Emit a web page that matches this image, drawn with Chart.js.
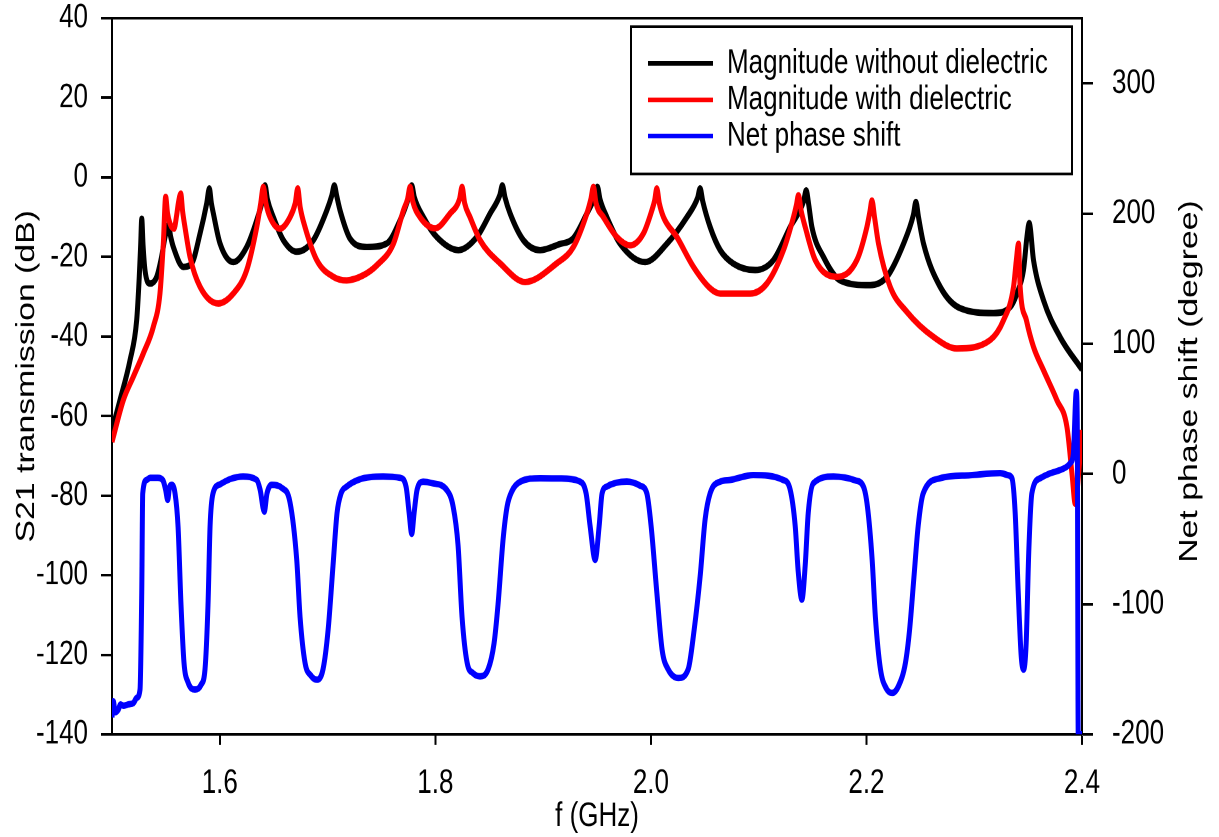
<!DOCTYPE html>
<html>
<head>
<meta charset="utf-8">
<title>S21 transmission and net phase shift</title>
<script src="https://cdn.jsdelivr.net/npm/chart.js@4.4.1/dist/chart.umd.min.js"></script>
<style>
html, body { margin: 0; padding: 0; background: #fff; overflow: hidden; }
/* the source figure is stretched vertically, so the chart is drawn short and scaled up */
#wrap { position: absolute; left: 0; top: 0; width: 1219px; height: 644px; transform: scaleY(1.2997); transform-origin: 0 0; }
</style>
</head>
<body>
<div id="wrap"><canvas id="chart"></canvas></div>
<script>
var xTicks = [1.6, 1.8, 2.0, 2.2, 2.4];
var dbTicks = [-140, -120, -100, -80, -60, -40, -20, 0, 20, 40];
var phaseTicks = [-200, -100, 0, 100, 200, 300];
var seriesNames = ['Magnitude without dielectric', 'Magnitude with dielectric', 'Net phase shift'];
var seriesColors = ['#000000', '#ff0000', '#0000ff'];

// magnitude without dielectric (GHz, dB)
var freqNoDiel = [1.5000, 1.5074, 1.5167, 1.5229, 1.5253, 1.5266, 1.5276, 1.5288, 1.5306, 1.5353,
	1.5415, 1.5460, 1.5492, 1.5523, 1.5545, 1.5569, 1.5662, 1.5740, 1.5817, 1.5879,
	1.5903, 1.5922, 1.5940, 1.6002, 1.6126, 1.6250, 1.6343, 1.6398, 1.6420, 1.6442,
	1.6497, 1.6590, 1.6714, 1.6868, 1.6993, 1.7040, 1.7063, 1.7086, 1.7116, 1.7209,
	1.7364, 1.7550, 1.7673, 1.7758, 1.7781, 1.7805, 1.7889, 1.8013, 1.8214, 1.8385,
	1.8508, 1.8598, 1.8622, 1.8646, 1.8694, 1.8817, 1.8972, 1.9150, 1.9281, 1.9406,
	1.9480, 1.9504, 1.9528, 1.9591, 1.9715, 1.9947, 2.0148, 2.0334, 2.0433, 2.0457,
	2.0481, 2.0550, 2.0643, 2.0766, 2.0968, 2.1137, 2.1292, 2.1417, 2.1441, 2.1465,
	2.1494, 2.1601, 2.1756, 2.2035, 2.2190, 2.2344, 2.2435, 2.2459, 2.2483, 2.2530,
	2.2684, 2.2870, 2.3179, 2.3334, 2.3396, 2.3457, 2.3489, 2.3510, 2.3550, 2.3643,
	2.3798, 2.4000];
var magNoDiel = [-63.5, -56, -46, -35.9, -25, -17, -10.4, -17, -23.3, -26.7,
	-25, -20, -15, -12, -15, -17.5, -22.5, -21.6, -14.1, -6.5,
	-2.8, -6.5, -9, -16.6, -21.3, -17.5, -10.8, -5.5, -2, -5.5,
	-10, -15.8, -18.7, -15.8, -8.3, -4.5, -2, -4.8, -8.3, -15.4,
	-17.5, -16.6, -10.8, -4.5, -2, -5, -10, -15, -18.3, -15,
	-9.1, -4.5, -2, -5, -9.1, -15.8, -18.3, -16.8, -15.3, -9.1,
	-4.8, -2.4, -5.5, -10, -16.7, -21.3, -16.7, -10, -5.2, -2.8,
	-6, -12.5, -18.3, -21.7, -23.3, -20.8, -12.5, -6, -3.3, -7,
	-12.5, -20, -25.9, -27.1, -25, -16.7, -9.5, -6.2, -10, -16.7,
	-27.5, -32.9, -34.1, -32.6, -29.2, -23.3, -15, -11.5, -20.8, -30.9,
	-40.2, -48.3];

// magnitude with dielectric (GHz, dB)
var freqDiel = [1.5000, 1.5105, 1.5198, 1.5290, 1.5383, 1.5445, 1.5476, 1.5498, 1.5515, 1.5538,
	1.5575, 1.5600, 1.5615, 1.5638, 1.5655, 1.5677, 1.5724, 1.5817, 1.5987, 1.6126,
	1.6250, 1.6343, 1.6380, 1.6404, 1.6428, 1.6466, 1.6559, 1.6652, 1.6700, 1.6723,
	1.6746, 1.6791, 1.6900, 1.7054, 1.7178, 1.7332, 1.7457, 1.7611, 1.7704, 1.7742,
	1.7766, 1.7790, 1.7858, 1.7998, 1.8137, 1.8224, 1.8248, 1.8272, 1.8322, 1.8415,
	1.8601, 1.8833, 1.9127, 1.9281, 1.9406, 1.9443, 1.9467, 1.9491, 1.9560, 1.9684,
	1.9807, 1.9931, 2.0009, 2.0035, 2.0055, 2.0078, 2.0117, 2.0241, 2.0395, 2.0550,
	2.0643, 2.0921, 2.1076, 2.1230, 2.1323, 2.1350, 2.1369, 2.1395, 2.1432, 2.1525,
	2.1726, 2.1911, 2.2004, 2.2033, 2.2051, 2.2075, 2.2112, 2.2220, 2.2375, 2.2622,
	2.2839, 2.3148, 2.3272, 2.3365, 2.3390, 2.3411, 2.3425, 2.3485, 2.3550, 2.3643,
	2.3767, 2.3860, 2.3909, 2.3937, 2.3970, 2.4000];
var magDiel = [-66.5, -56, -50.1, -44.3, -37.6, -29.2, -16.7, -4.9, -9, -11.6,
	-12.9, -9.5, -6.6, -4.1, -8.5, -12.5, -20, -27.5, -31.7, -29.2,
	-23.3, -12.5, -6.5, -2.4, -6.5, -10, -12.9, -10, -6.5, -2.8,
	-7.5, -12.5, -20.8, -25, -25.9, -24.6, -22.1, -16.7, -8.3, -5.5,
	-2.4, -6, -10, -12.8, -9.1, -5.5, -2.4, -6.5, -10, -15.8,
	-21.6, -26.3, -21.6, -17.5, -9.1, -5.5, -2.4, -6.5, -10, -15,
	-17.1, -14.1, -8.3, -5.8, -2.8, -6.5, -10, -15, -22.5, -27.9,
	-29.2, -29.2, -26.7, -18.3, -10, -7, -4.5, -8.5, -12.5, -20.8,
	-25, -20.8, -12.5, -8.5, -5.8, -10, -16.7, -27.5, -33.8, -40.1,
	-43, -40.9, -35.9, -27.5, -21, -16.7, -27, -36, -42.6, -48.5,
	-56, -62.7, -75, -82, -74, -63.5];

// net phase shift (GHz, degree)
var freqPhase = [1.5000, 1.5012, 1.5030, 1.5058, 1.5080, 1.5105, 1.5151, 1.5198, 1.5229, 1.5260,
	1.5276, 1.5285, 1.5322, 1.5353, 1.5427, 1.5473, 1.5497, 1.5517, 1.5534, 1.5554,
	1.5585, 1.5613, 1.5640, 1.5668, 1.5705, 1.5770, 1.5826, 1.5863, 1.5891, 1.5910,
	1.5937, 1.6002, 1.6095, 1.6216, 1.6343, 1.6374, 1.6413, 1.6438, 1.6482, 1.6575,
	1.6652, 1.6714, 1.6745, 1.6791, 1.6847, 1.6900, 1.6958, 1.7005, 1.7051, 1.7088,
	1.7125, 1.7178, 1.7302, 1.7515, 1.7673, 1.7729, 1.7757, 1.7781, 1.7803, 1.7831,
	1.7886, 1.7967, 1.8106, 1.8165, 1.8211, 1.8248, 1.8295, 1.8350, 1.8415, 1.8490,
	1.8545, 1.8582, 1.8629, 1.8666, 1.8712, 1.8786, 1.8972, 1.9158, 1.9343, 1.9399,
	1.9436, 1.9483, 1.9520, 1.9547, 1.9591, 1.9777, 1.9900, 1.9962, 2.0002, 2.0055,
	2.0104, 2.0160, 2.0256, 2.0346, 2.0401, 2.0457, 2.0503, 2.0550, 2.0643, 2.0736,
	2.0949, 2.1227, 2.1292, 2.1339, 2.1367, 2.1401, 2.1432, 2.1460, 2.1508, 2.1694,
	2.1898, 2.1972, 2.2009, 2.2053, 2.2083, 2.2130, 2.2186, 2.2239, 2.2297, 2.2362,
	2.2400, 2.2440, 2.2480, 2.2527, 2.2685, 2.2963, 2.3241, 2.3315, 2.3350, 2.3380,
	2.3408, 2.3436, 2.3458, 2.3482, 2.3506, 2.3535, 2.3612, 2.3705, 2.3798, 2.3860,
	2.3890, 2.3919, 2.3947, 2.3956, 2.3965, 2.4000];
var phaseDeg = [-187, -174.6, -183, -181, -177, -178, -177, -176, -172, -165.6,
	-91, -15, -4.6, -3, -3, -5, -12, -20, -10, -8.4,
	-15, -40.6, -100, -145, -160, -165.6, -162, -150, -100, -40,
	-15, -8, -4, -2, -4.6, -12, -28.9, -15, -8.4, -10.7,
	-22, -66, -110, -145, -155, -158, -150, -120, -70, -30,
	-15, -9.7, -4, -2, -3, -10, -30, -46, -30, -12,
	-6, -7, -12.3, -25, -55, -110, -145, -153, -155.4, -150,
	-130, -100, -50, -25, -13, -6, -3.3, -3.5, -5.9, -15,
	-40, -66, -40, -15, -9.7, -5.9, -9, -14.8, -40, -91,
	-135, -150, -156.7, -150, -120, -78.7, -35, -14.8, -5.9, -4.6,
	-0.8, -4.6, -12, -40, -75, -96.6, -70, -30, -7.1, -2,
	-5, -9.7, -25, -66, -110, -150, -165, -168.2, -163, -145,
	-120, -80, -40, -14.8, -3.3, -1, 0.6, -1, -3.3, -30,
	-90, -140, -150.3, -130, -60, -14.8, -3.3, 0.5, 3, 5.6,
	8.2, 15, 63, 40, -200, -200];

function pairs(xs, ys) {
	return xs.map(function(x, i) {
		return { x: x, y: ys[i] };
	});
}

var FONT = "'Liberation Sans', Arial, sans-serif";
Chart.defaults.font.family = FONT;
Chart.defaults.color = '#000';

var axisGrid = { drawOnChartArea: false, drawTicks: true, tickLength: 11, tickWidth: 2, tickColor: '#000' };
var axisBorder = { display: true, color: '#000', width: 2 };

// keep the axis boxes at fixed sizes, no extra room for overhanging labels
function fixSize(w, h) {
	return function(s) {
		if (w) s.width = w;
		if (h) s.height = h;
		s.paddingTop = 0;
		s.paddingBottom = 0;
		s.paddingLeft = 0;
		s.paddingRight = 0;
	};
}

// top frame line, boxed legend and the right axis title (reads bottom to top)
var decorPlugin = {
	id: 'decor',
	afterDraw: function(chart) {
		var ctx = chart.ctx;
		var a = chart.chartArea;
		ctx.save();
		ctx.strokeStyle = '#000';
		ctx.lineWidth = 2;
		ctx.beginPath();
		ctx.moveTo(a.left - 1, a.top);
		ctx.lineTo(a.right + 1, a.top);
		ctx.stroke();

		var box = { left: 631, top: 20.5, width: 441, height: 113.3 };
		ctx.fillStyle = '#fff';
		ctx.fillRect(box.left, box.top, box.width, box.height);
		ctx.strokeRect(box.left, box.top, box.width, box.height);
		var rows = [48.7, 76.9, 104.6];
		ctx.font = '26px ' + FONT;
		ctx.textBaseline = 'middle';
		ctx.textAlign = 'left';
		for (var i = 0; i < seriesNames.length; i++) {
			ctx.strokeStyle = seriesColors[i];
			ctx.lineWidth = 3.5;
			ctx.beginPath();
			ctx.moveTo(648, rows[i]);
			ctx.lineTo(713, rows[i]);
			ctx.stroke();
			ctx.fillStyle = '#000';
			ctx.fillText(seriesNames[i], 727, rows[i]);
		}

		ctx.translate(1190, (a.top + a.bottom) / 2 + 4);
		ctx.rotate(-Math.PI / 2);
		ctx.textAlign = 'center';
		ctx.font = '26px ' + FONT;
		ctx.fillText('Net phase shift (degree)', 0, 0);
		ctx.restore();
	}
};

new Chart(document.getElementById('chart').getContext('2d'), {
	type: 'line',
	data: {
		datasets: [{
			label: seriesNames[0],
			data: pairs(freqNoDiel, magNoDiel),
			borderColor: seriesColors[0],
			yAxisID: 'y',
			order: 3
		}, {
			label: seriesNames[1],
			data: pairs(freqDiel, magDiel),
			borderColor: seriesColors[1],
			yAxisID: 'y',
			order: 2
		}, {
			label: seriesNames[2],
			data: pairs(freqPhase, phaseDeg),
			borderColor: seriesColors[2],
			yAxisID: 'y1',
			order: 1
		}]
	},
	options: {
		responsive: true,
		maintainAspectRatio: false,
		devicePixelRatio: 2,
		animation: false,
		layout: { padding: { top: 14, left: 0, right: 0, bottom: 0 } },
		elements: {
			point: { radius: 0 },
			line: { borderWidth: 5, fill: false, cubicInterpolationMode: 'monotone' }
		},
		plugins: {
			legend: { display: false },
			tooltip: { enabled: false }
		},
		scales: {
			x: {
				type: 'linear',
				position: 'bottom',
				min: 1.5,
				max: 2.4,
				afterBuildTicks: function(s) { s.ticks = xTicks.map(function(v) { return { value: v }; }); },
				afterFit: fixSize(0, 79),
				ticks: {
					font: { size: 26 },
					padding: 14,
					maxRotation: 0,
					autoSkip: false,
					callback: function(v) { return v.toFixed(1); }
				},
				grid: Object.assign({}, axisGrid, { tickLength: 8 }),
				border: axisBorder,
				title: { display: true, text: 'f (GHz)', font: { size: 26 }, padding: { top: 0, bottom: 0 } }
			},
			y: {
				type: 'linear',
				position: 'left',
				min: -140,
				max: 40,
				afterBuildTicks: function(s) { s.ticks = dbTicks.map(function(v) { return { value: v }; }); },
				afterFit: fixSize(112, 0),
				ticks: { font: { size: 26 }, padding: 13, autoSkip: false, callback: function(v) { return String(v); } },
				grid: axisGrid,
				border: axisBorder,
				title: { display: true, text: 'S21 transmission (dB)', font: { size: 26 }, padding: { top: 11, bottom: 0 } }
			},
			y1: {
				type: 'linear',
				position: 'right',
				min: -200,
				max: 350,
				afterBuildTicks: function(s) { s.ticks = phaseTicks.map(function(v) { return { value: v }; }); },
				afterFit: fixSize(137, 0),
				ticks: { font: { size: 26 }, padding: 19, autoSkip: false, callback: function(v) { return String(v); } },
				grid: axisGrid,
				border: axisBorder
			}
		}
	},
	plugins: [decorPlugin]
});
</script>
</body>
</html>
